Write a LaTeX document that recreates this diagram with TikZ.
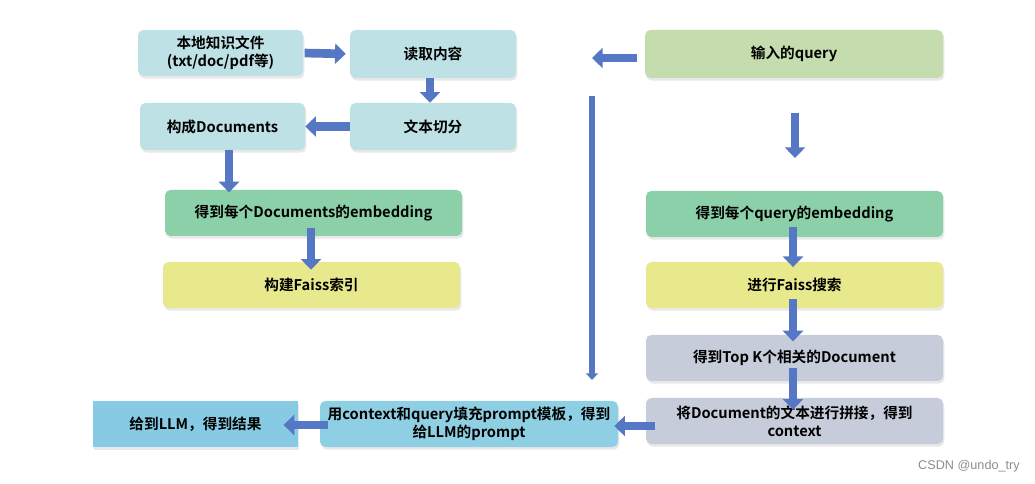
\documentclass[tikz,border=0pt]{standalone}
\usepackage{fontspec}
\setmainfont{Noto Sans CJK SC}[BoldFont={* Bold}]
\newfontfamily\wmfont{Liberation Sans}
\usetikzlibrary{arrows.meta,shadows,calc}
\definecolor{teal1}{RGB}{190,225,230}
\definecolor{green1}{RGB}{140,208,170}
\definecolor{yellow1}{RGB}{232,232,140}
\definecolor{qgreen}{RGB}{197,221,174}
\definecolor{gblue}{RGB}{198,204,217}
\definecolor{sky1}{RGB}{143,207,227}
\definecolor{sky2}{RGB}{134,203,227}
\definecolor{arrblue}{RGB}{85,119,196}
\begin{document}
\begin{tikzpicture}[x=0.75pt,y=-0.75pt,
  bx/.style 2 args={minimum width=#1*0.75pt, minimum height=#2*0.75pt},
  box/.style={rounded corners=4pt, inner sep=1pt, align=center,
    font=\fontsize{11}{13.5}\selectfont\bfseries,
    drop shadow={opacity=0.18, shadow xshift=1pt, shadow yshift=-2pt}},
  arr/.style={draw=arrblue, line width=6.5pt,
    -{Triangle[width=15pt,length=8pt]}},
  thinarr/.style={draw=arrblue, line width=4.5pt,
    -{Triangle[width=9pt,length=5pt]}}]
\useasboundingbox (0,0) rectangle (1035,484);
% left column
\node[box,bx={165}{46},fill=teal1] (n1) at (220.5,53) {本地知识文件\\(txt/doc/pdf等)};
\node[box,bx={166}{48},fill=teal1] (n2) at (433,54) {读取内容};
\node[box,bx={166}{47},fill=teal1] (n3) at (433,126.5) {文本切分};
\node[box,bx={165}{47},fill=teal1] (n4) at (222.5,126.5) {构成Documents};
\node[box,bx={297}{46},fill=green1] (n5) at (313.5,213) {得到每个Documents的embedding};
\node[box,bx={297}{46},fill=yellow1] (n6) at (311.5,285) {构建Faiss索引};
% right column
\node[box,bx={298}{48},fill=qgreen] (q1) at (794,54) {输入的query};
\node[box,bx={297}{46},fill=green1] (q2) at (794.5,214) {得到每个query的embedding};
\node[box,bx={297}{46},fill=yellow1] (q3) at (794.5,285) {进行Faiss搜索};
\node[box,bx={297}{46},fill=gblue] (q4) at (794.5,358) {得到Top K个相关的Document};
\node[box,bx={297}{46},fill=gblue] (q5) at (794.5,421) {将Document的文本进行拼接，得到\\context};
% bottom row
\node[box,bx={298}{46},fill=sky1] (p1) at (469,424) {用context和query填充prompt模板，得到\\给LLM的prompt};
\node[box,bx={205}{46},fill=sky2,rounded corners=0pt] (p2) at (195.5,424) {给到LLM，得到结果};
% free coordinates
\coordinate (qa) at (637,58);
\coordinate (qb) at (592,58);
\coordinate (va) at (592,96);
\coordinate (vb) at (592,380);
\coordinate (da) at (795,113);
\coordinate (db) at (795,158);
% connectors
\draw[arr,shorten <=1pt,shorten >=3pt] (n1.east) -- (n2.west);
\draw[arr] (n2.south -| 430,0) -- (n3.north -| 430,0);
\draw[arr] (n3.west) -- (n4.east);
\draw[arr,shorten >=-2pt] (n4.south -| 229,0) -- (n5.north -| 229,0);
\draw[arr,shorten <=-6pt,shorten >=-6pt] (n5.south -| 311,0) -- (n6.north -| 311,0);
\draw[arr] (qa) -- (qb);
\draw[thinarr] (va) -- (vb);
\draw[arr] (da) -- (db);
\draw[arr,shorten <=-8pt,shorten >=-4pt] (q2.south -| 793,0) -- (q3.north -| 793,0);
\draw[arr,shorten <=-7pt,shorten >=-5pt] (q3.south -| 793,0) -- (q4.north -| 793,0);
\draw[arr,shorten <=-10pt,shorten >=-9pt] (q4.south -| 793,0) -- (q5.north -| 793,0);
\draw[arr,shorten <=-7pt,shorten >=-3pt] (q5.west |- 0,426) -- (p1.east |- 0,426);
\draw[arr,shorten <=-6pt,shorten >=-11pt] (p1.west |- 0,425) -- (p2.east |- 0,425);
% watermark
\node[font=\wmfont\fontsize{9.5}{11}\selectfont, text=black!45, anchor=east, inner sep=0pt] (wm) at (1020,466) {CSDN @undo\_try};
\end{tikzpicture}
\end{document}
